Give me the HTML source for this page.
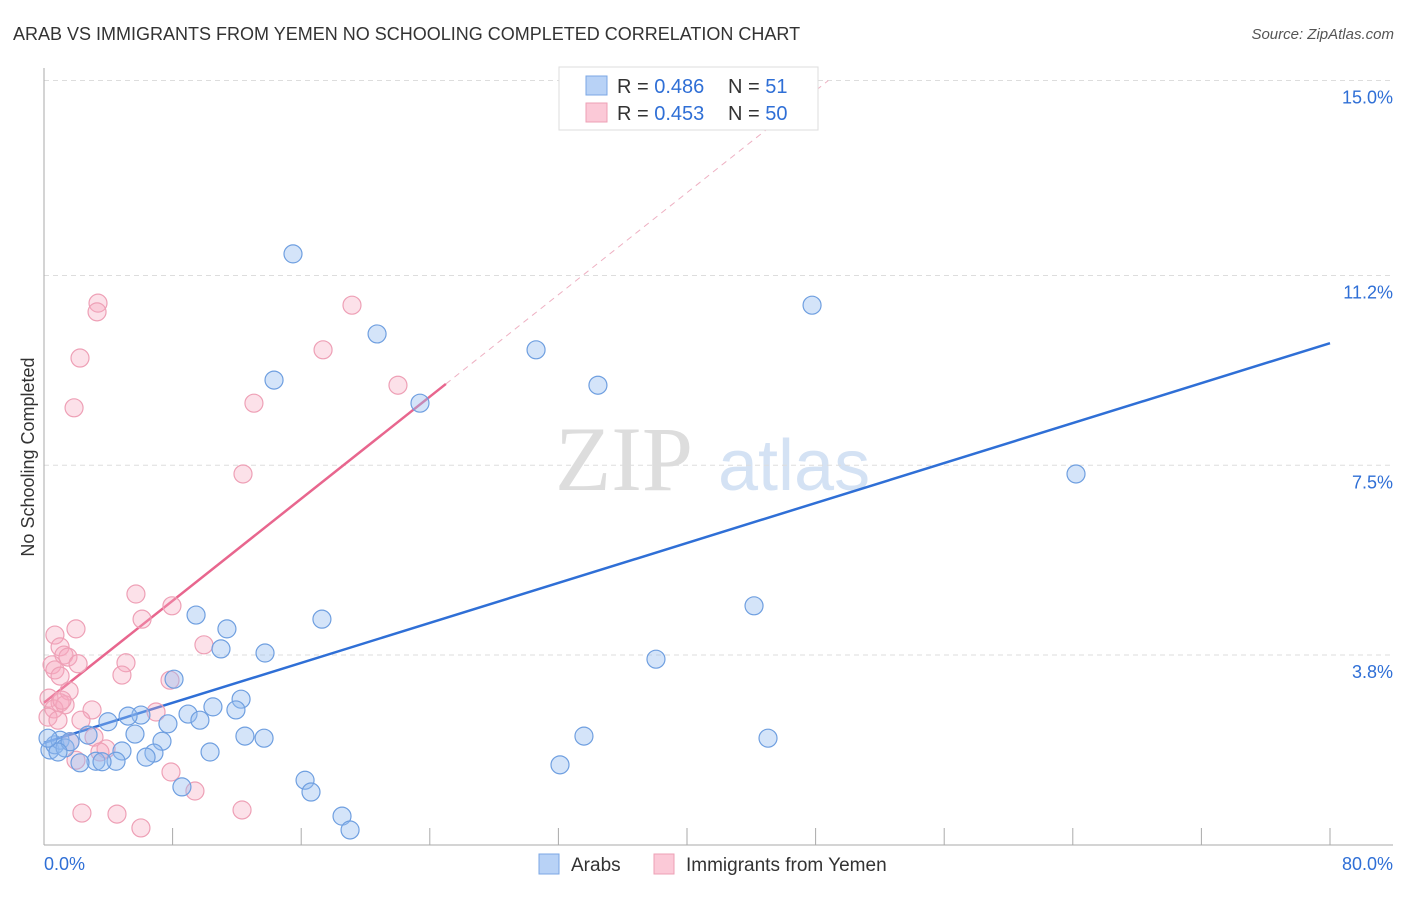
<!DOCTYPE html>
<html><head><meta charset="utf-8"><style>
body{margin:0;background:#fff;font-family:"Liberation Sans",sans-serif}
</style></head><body>
<svg width="1406" height="892" xmlns="http://www.w3.org/2000/svg" font-family="Liberation Sans, sans-serif">
<text x="13" y="40" font-size="18" fill="#333">ARAB VS IMMIGRANTS FROM YEMEN NO SCHOOLING COMPLETED CORRELATION CHART</text>
<text x="1394" y="39" font-size="15" fill="#555" text-anchor="end" font-style="italic">Source: ZipAtlas.com</text>
<text transform="translate(34,457) rotate(-90)" font-size="18" fill="#333" text-anchor="middle">No Schooling Completed</text>
<g>
<text x="555" y="490" font-size="92" font-family="Liberation Serif, serif" fill="#ddd">ZIP</text>
<text x="718" y="490" font-size="72" fill="#d4e2f4">atlas</text>
</g>
<g id="grid"></g><g id="axes"></g><g id="lines"></g><g id="pts"></g>
<g>
<rect x="559" y="67" width="259" height="63" fill="#fff" stroke="#ddd"/>
<rect x="586" y="76" width="21" height="19" fill="#b8d2f6" stroke="#7ba7e4"/>
<rect x="586" y="103" width="21" height="19" fill="#fbc9d7" stroke="#eea0b6"/>
<text x="617" y="93" font-size="20" fill="#333">R = <tspan fill="#2f6fd6">0.486</tspan></text>
<text x="728" y="93" font-size="20" fill="#333">N = <tspan fill="#2f6fd6"> 51</tspan></text>
<text x="617" y="120" font-size="20" fill="#333">R = <tspan fill="#2f6fd6">0.453</tspan></text>
<text x="728" y="120" font-size="20" fill="#333">N = <tspan fill="#2f6fd6">50</tspan></text>
</g>
<g>
<rect x="539" y="854" width="20" height="20" fill="#b8d2f6" stroke="#7ba7e4"/>
<text x="571" y="871" font-size="19" fill="#333">Arabs</text>
<rect x="654" y="854" width="20" height="20" fill="#fbc9d7" stroke="#eea0b6"/>
<text x="686" y="871" font-size="19" fill="#333">Immigrants from Yemen</text>
</g>
</svg>
<script>
const yTicks=[15.0,11.2,7.5,3.8];
const yTickLabels=["15.0%","11.2%","7.5%","3.8%"];
const xTicks=[0,8,16,24,32,40,48,56,64,72,80];
const arabsX=[15.49,20.72,47.78,30.61,14.31,34.46,23.39,64.20,9.46,17.29,11.38,11.01,13.75,44.17,38.07,8.09,12.26,10.51,11.94,8.96,6.03,5.23,3.98,7.71,9.70,5.66,12.50,13.69,33.59,45.04,7.34,2.74,4.85,6.84,10.33,6.35,3.23,4.48,3.61,2.24,32.10,16.24,16.61,8.58,18.54,19.04,0.37,0.68,1.00,1.31,1.62,0.87,0.25];
const arabsY=[11.62,10.06,10.62,9.75,9.16,9.06,8.71,7.33,4.58,4.50,4.31,3.92,3.84,4.76,3.72,3.33,2.94,2.79,2.73,2.65,2.63,2.61,2.50,2.46,2.53,2.26,2.22,2.18,2.22,2.18,2.12,2.24,1.93,1.89,1.91,1.81,1.73,1.73,1.72,1.70,1.66,1.36,1.13,1.23,0.66,0.39,1.95,2.05,2.14,1.99,2.11,1.91,2.18];
const yemenX=[3.36,3.30,19.16,2.24,17.36,22.02,1.87,13.06,12.38,5.72,7.96,6.10,1.99,0.68,9.95,1.00,1.24,1.49,2.12,5.10,0.50,0.68,1.00,4.85,7.84,1.56,0.31,1.00,1.31,0.62,2.99,6.97,0.25,2.30,3.11,1.62,3.86,3.48,1.99,7.90,9.39,2.36,4.54,6.03,12.32,0.87,1.12];
const yemenY=[10.66,10.49,10.62,9.59,9.75,9.06,8.62,8.71,7.33,4.99,4.76,4.50,4.31,4.19,4.00,3.96,3.80,3.76,3.63,3.65,3.61,3.51,3.39,3.41,3.31,3.10,2.96,2.87,2.83,2.75,2.73,2.69,2.59,2.53,2.20,2.11,1.97,1.91,1.75,1.52,1.15,0.72,0.70,0.43,0.78,2.53,2.92];
const arabsTrend=[2.09,9.88];
const yemenTrend=[2.87,0.2486];
const X=v=>44+v*16.075, Y=v=>850-v*51.3;
const NS="http://www.w3.org/2000/svg";
function mk(p,t,a){const e=document.createElementNS(NS,t);for(const k in a)e.setAttribute(k,a[k]);document.getElementById(p).appendChild(e);return e;}
yTicks.forEach((t,i)=>{
 const l=mk('grid','line',{x1:44,x2:1393,y1:Y(t),y2:Y(t),stroke:'#ddd','stroke-dasharray':'5,4'});
 
 
 const tx=mk('grid','text',{x:1393,y:Y(t)+23,'font-size':18,fill:'#2f6fd6','text-anchor':'end'});
 tx.textContent=yTickLabels[i];
 
 
});
mk('axes','line',{x1:44,x2:44,y1:68,y2:845,stroke:'#aaa'});
mk('axes','line',{x1:44,x2:1393,y1:845,y2:845,stroke:'#aaa'});
xTicks.forEach(t=>{if(t>0){const l=mk('axes','line',{x1:X(t),x2:X(t),y1:828,y2:845,stroke:'#aaa'});
 
 }});
let a=mk('axes','text',{x:44,y:870,'font-size':18,fill:'#2f6fd6'});a.textContent='0.0%';


a=mk('axes','text',{x:1393,y:870,'font-size':18,fill:'#2f6fd6','text-anchor':'end'});a.textContent='80.0%';


function pts(xs,ys,fill,stroke,name){xs.forEach((x,i)=>{const c=mk('pts','circle',{cx:X(x),cy:Y(ys[i]),r:9,fill:fill,stroke:stroke,'stroke-width':1.2});
 
 });}
pts(yemenX,yemenY,'rgba(246,170,192,0.35)','#eea0b6','yemen-point');
pts(arabsX,arabsY,'rgba(147,187,240,0.4)','#6f9fe0','arab-point');
let ln=mk('lines','line',{x1:X(0),y1:Y(arabsTrend[0]),x2:X(80),y2:Y(arabsTrend[1]),stroke:'#2f6fd6','stroke-width':2.5});


const xe=(15-yemenTrend[0])/yemenTrend[1];
ln=mk('lines','line',{x1:X(25),y1:Y(yemenTrend[0]+25*yemenTrend[1]),x2:X(xe),y2:Y(15),stroke:'#eeb0c2','stroke-width':1,'stroke-dasharray':'6,5'});


ln=mk('lines','line',{x1:X(0),y1:Y(yemenTrend[0]),x2:X(25),y2:Y(yemenTrend[0]+25*yemenTrend[1]),stroke:'#e8668e','stroke-width':2.5});


</script>
</body></html>
